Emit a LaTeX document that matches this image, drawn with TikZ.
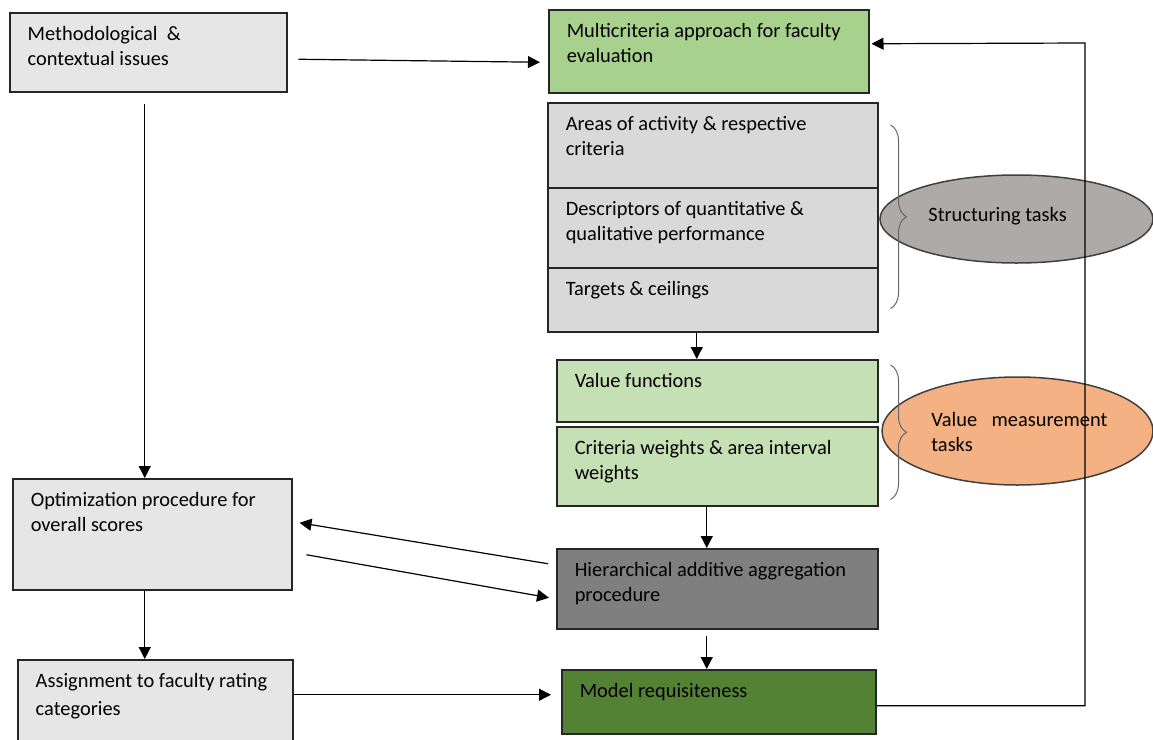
\documentclass[tikz,border=0pt]{standalone}
\usepackage{fontspec}
\setmainfont{Carlito}
\usepackage{tikz}
\usetikzlibrary{arrows.meta,shapes.geometric,decorations.pathreplacing}

\definecolor{boxgrey}{HTML}{E7E6E6}
\definecolor{taskgrey}{HTML}{D9D9D9}
\definecolor{lightgreen}{HTML}{A9D18E}
\definecolor{palegreen}{HTML}{C5E0B4}
\definecolor{darkgreen}{HTML}{548235}
\definecolor{midgrey}{HTML}{7F7F7F}
\definecolor{ellgrey}{HTML}{AEAAAA}
\definecolor{peach}{HTML}{F4B183}

\newcommand{\boxtext}[3]{\parbox[t][#2][t]{#1}{\raggedright\rule{0pt}{8pt}#3}}

\begin{document}
\begin{tikzpicture}[x=0.5pt, y=-0.5pt,
    every node/.style={font=\fontsize{10.2pt}{12.3pt}\selectfont},
    box/.style={draw=black!85, line width=0.75pt, anchor=north west, inner xsep=9pt, inner ysep=6pt},
    task/.style={ellipse, draw=black!75, line width=0.75pt, inner sep=0pt},
    arr/.style={-{Triangle[length=6pt,width=6pt]}, line width=0.6pt},
    curly/.style={decorate, decoration={brace, amplitude=8pt}, draw=black!60, line width=0.5pt}]
    \clip (0,0) rectangle (1153,740);
    % linker kolom
    \node[box, fill=boxgrey] (meth) at (9,12) {\boxtext{120.5pt}{27.5pt}{Methodological\ \ \&\\contextual issues}};
    \node[box, fill=boxgrey] (opt) at (12,478) {\boxtext{121.5pt}{43.5pt}{Optimization procedure for\\overall scores}};
    \node[box, fill=boxgrey] (assign) at (17,659) {\boxtext{119.5pt}{32.5pt}{Assignment to faculty rating\\[1.5pt]categories}};
    % middelste kolom
    \node[box, fill=lightgreen] (multi) at (548,9) {\boxtext{142pt}{29.5pt}{Multicriteria approach for faculty\\evaluation}};
    \node[box, fill=taskgrey] (areas) at (547,102) {\boxtext{147pt}{30.5pt}{Areas of activity \& respective\\criteria}};
    \node[box, fill=taskgrey] (desc) at (547,187) {\boxtext{147pt}{28pt}{Descriptors of quantitative \&\\qualitative performance}};
    \node[box, fill=taskgrey] (targ) at (547,267) {\boxtext{147pt}{20pt}{Targets \& ceilings}};
    \node[box, fill=palegreen] (valf) at (556,359) {\boxtext{142.5pt}{19pt}{Value functions}};
    \node[box, fill=palegreen] (crit) at (556,426) {\boxtext{142.5pt}{27.5pt}{Criteria weights \& area interval\\weights}};
    \node[box, fill=midgrey] (hier) at (556,548) {\boxtext{142.5pt}{28pt}{Hierarchical additive aggregation\\procedure}};
    \node[box, fill=darkgreen] (model) at (561,669) {\boxtext{139pt}{20pt}{Model requisiteness}};
    % taken
    \node[task, fill=ellgrey, minimum width=136.5pt, minimum height=44pt] (struct) at (1016.5,219) {};
    \node[task, fill=peach, minimum width=135.5pt, minimum height=54pt] (value) at (1017.5,431) {};
    \node[anchor=west, inner sep=0pt] (structtxt) at (928,216) {Structuring tasks};
    \node[anchor=north west, inner sep=0pt, align=left] (valuetxt) at (931,412) {\makebox[88pt][s]{Value measurement}\\tasks};
    % accolades
    \draw[curly] ([xshift=6pt,yshift=-11.5pt]areas.north east) -- ([xshift=6pt,yshift=12pt]targ.south east);
    \draw[curly] ([xshift=6pt,yshift=-3pt]valf.north east) -- ([xshift=6pt,yshift=3.5pt]crit.south east);
    % pijlen
    \draw[arr] ([xshift=5.5pt,yshift=-3.5pt]meth.east) -- ([xshift=-4pt,yshift=-5.5pt]multi.west);
    \draw[arr] ([xshift=-1.75pt,yshift=-5.5pt]meth.south) -- ([xshift=-1.75pt]meth.south |- opt.north);
    \draw[arr] ([xshift=-8pt]targ.south) -- ([xshift=-8pt]targ.south |- valf.north);
    \draw[arr] ([xshift=-5.25pt]crit.south) -- ([xshift=-5.25pt]crit.south |- hier.north);
    \draw[arr] ([xshift=-5.25pt,yshift=-3pt]hier.south) -- ([xshift=-5.25pt]hier.south |- model.north);
    \draw[arr] ([xshift=-4pt,yshift=12.5pt]hier.west) -- ([xshift=3.5pt,yshift=5.75pt]opt.east);
    \draw[arr] ([xshift=7pt,yshift=-10.25pt]opt.east) -- ([xshift=-3.5pt,yshift=-4.5pt]hier.west);
    \draw[arr] ([xshift=-3.75pt]opt.south) -- ([xshift=-3.75pt]opt.south |- assign.north);
    \draw[arr] ([yshift=3.5pt]model.west -| assign.east) -- ([xshift=-5pt,yshift=3.5pt]model.west);
    % terugkoppeling
    \coordinate (fb) at (1085,43);
    \draw[arr] ([yshift=-2pt]model.east) -| (fb) -- ([xshift=1pt,yshift=3.75pt]multi.east);
\end{tikzpicture}
\end{document}
